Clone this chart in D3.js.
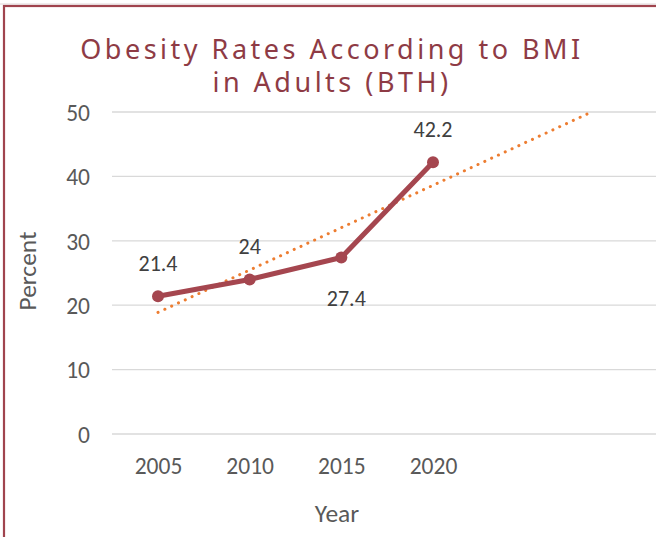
<!DOCTYPE html>
<html><head><meta charset="utf-8">
<script src="https://cdn.jsdelivr.net/npm/d3@7"></script>
<style>body{margin:0;background:#fff}svg{display:block}</style>
</head><body>
<script>
const years = ["2005","2010","2015","2020"];
const percents = [21.4, 24, 27.4, 42.2];
const yTicks = [0,10,20,30,40,50];
const titleLines = ["Obesity Rates According to BMI","in Adults (BTH)"];
const labelPos = ["above","above","below","above"];

const W=656,H=537;
const svg=d3.select("body").append("svg").attr("width",W).attr("height",H);
svg.append("rect").attr("width",W).attr("height",H).attr("fill","#fff");
svg.append("line").attr("x1",0).attr("x2",W).attr("y1",4).attr("y2",4).attr("stroke","#e0d6d8").attr("stroke-width",1);
svg.append("rect").attr("x",4).attr("y",6).attr("width",W+10).attr("height",H+10)
  .attr("fill","none").attr("stroke","#A0444E").attr("stroke-width",2.2);

const font="Carlito, Calibri, 'Open Sans', 'Noto Sans', sans-serif";
const y=d3.scaleLinear().domain([0,50]).range([434,112]);
const x=d3.scaleLinear().domain([0,3]).range([158,433]);
const plotL=112, plotR=W;

// gridlines
svg.append("g").selectAll("line").data(yTicks).join("line")
  .attr("x1",plotL).attr("x2",plotR).attr("y1",d=>y(d)).attr("y2",d=>y(d))
  .attr("stroke","#d9d9d9").attr("stroke-width",1.3);

// y axis labels
const yAxis=d3.axisLeft(y).tickValues(yTicks).tickSize(0).tickPadding(0);
const gy=svg.append("g").attr("transform","translate(90,0)").call(yAxis);
gy.select(".domain").remove();
gy.selectAll("text").attr("font-family",font).attr("font-size",23.5).attr("fill","#595959").attr("dy","0.35em");

// x axis labels
const xb=d3.scalePoint().domain(years).range([x(0),x(3)]);
const xAxis=d3.axisBottom(xb).tickSize(0).tickPadding(0);
const gx=svg.append("g").attr("transform","translate(0,466)").call(xAxis);
gx.select(".domain").remove();
gx.selectAll("text").attr("font-family",font).attr("font-size",23.5).attr("fill","#595959").attr("dy","0.35em");

// axis titles
svg.append("text").attr("x",337).attr("y",513).attr("text-anchor","middle").attr("dy","0.35em")
  .attr("font-family",font).attr("font-size",25.5).attr("fill","#595959").text("Year");
svg.append("text").attr("transform","translate(27,271) rotate(-90)").attr("text-anchor","middle").attr("dy","0.35em")
  .attr("font-family",font).attr("font-size",25.5).attr("fill","#595959").text("Percent");

// title
svg.append("g").selectAll("text").data(titleLines).join("text")
  .attr("x",332).attr("y",(d,i)=>59+i*33).attr("text-anchor","middle")
  .attr("font-family","'Noto Sans', 'Open Sans', sans-serif").attr("font-size",27).attr("letter-spacing",3.5)
  .attr("fill","#8E3B45").text(d=>d);

// trendline (linear regression, forecast forward, clipped at plot top)
const idx=percents.map((d,i)=>i);
const mx=d3.mean(idx), my=d3.mean(percents);
const slope=d3.sum(idx,i=>(i-mx)*(percents[i]-my))/d3.sum(idx,i=>(i-mx)*(i-mx));
const icpt=my-slope*mx;
const xEnd=(50-icpt)/slope;
svg.append("line").attr("x1",x(0)).attr("y1",y(icpt)).attr("x2",x(xEnd)).attr("y2",y(icpt+slope*xEnd))
  .attr("stroke","#ED7D31").attr("stroke-width",3).attr("stroke-linecap","round").attr("stroke-dasharray","0.1 7.4");

// data line
const line=d3.line().x((d,i)=>x(i)).y(d=>y(d));
svg.append("path").datum(percents).attr("d",line).attr("fill","none")
  .attr("stroke","#A5464F").attr("stroke-width",5).attr("stroke-linejoin","round");
svg.append("g").selectAll("circle").data(percents).join("circle")
  .attr("cx",(d,i)=>x(i)).attr("cy",d=>y(d)).attr("r",6).attr("fill","#A5464F");

// data labels
svg.append("g").selectAll("text").data(percents).join("text")
  .attr("x",(d,i)=>x(i)+(labelPos[i]==="below"?5:0))
  .attr("y",(d,i)=>labelPos[i]==="below"? y(d)+41 : y(d)-33)
  .attr("text-anchor","middle").attr("dy","0.35em")
  .attr("font-family",font).attr("font-size",22).attr("fill","#404040").text(d=>d);
</script>
</body></html>
